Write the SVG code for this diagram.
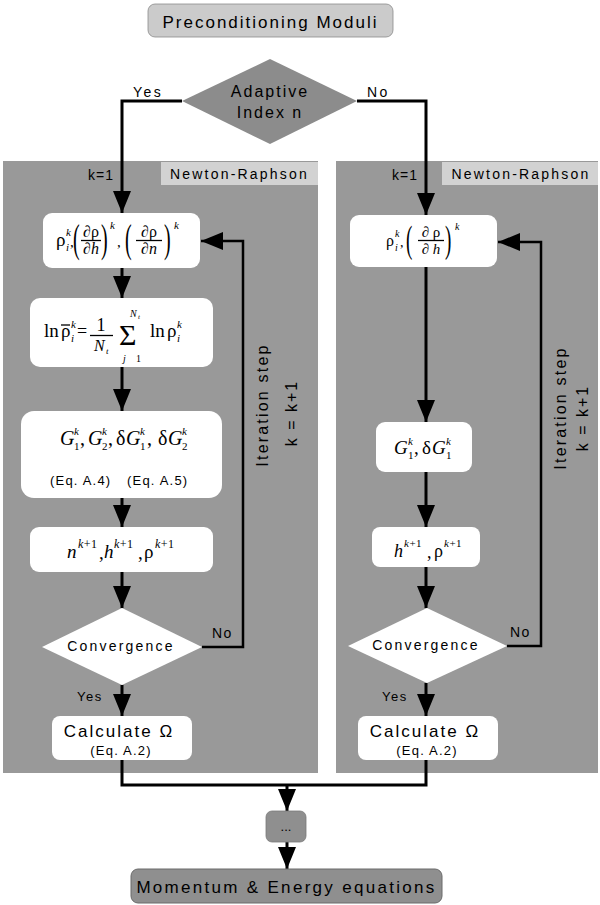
<svg xmlns="http://www.w3.org/2000/svg" width="600" height="905" viewBox="0 0 600 905">
<style>
.s{font-family:"Liberation Sans",Arial,sans-serif;fill:#000}
.m{font-family:"Liberation Serif","DejaVu Serif",serif;fill:#000}
.i{font-style:italic}
.ln{fill:none;stroke:#000;stroke-width:3}
.lp{fill:none;stroke:#000;stroke-width:2.5}
.wb{fill:#fff}
.bar{stroke:#000;stroke-width:1.3}
</style>
<defs>
<marker id="ah" markerUnits="userSpaceOnUse" markerWidth="22" markerHeight="18" refX="22" refY="9" orient="auto">
<path d="M0,0 L22,9 L0,18 z" fill="#000"/>
</marker>
</defs>
<rect width="600" height="905" fill="#fff"/>
<g id="panel-left">
<rect x="3" y="161" width="315" height="612" fill="#999"/>
<rect x="161" y="162" width="157" height="23" fill="#d2d2d2"/>
<text class="s" x="239.5" y="179" font-size="14" letter-spacing="2.2" text-anchor="middle">Newton-Raphson</text>
</g>
<g id="panel-right">
<rect x="336" y="161" width="262" height="612" fill="#999"/>
<rect x="442" y="162" width="156" height="23" fill="#d2d2d2"/>
<text class="s" x="521" y="179" font-size="14" letter-spacing="2.2" text-anchor="middle">Newton-Raphson</text>
</g>

<g id="connectors">
<path class="ln" d="M182,101 H122 V213" marker-end="url(#ah)"/>
<path class="ln" d="M357,101 H426 V215" marker-end="url(#ah)"/>
<path class="ln" d="M122,268 V298" marker-end="url(#ah)"/>
<path class="ln" d="M122,367 V411" marker-end="url(#ah)"/>
<path class="ln" d="M122,498 V527" marker-end="url(#ah)"/>
<path class="ln" d="M122,572 V608" marker-end="url(#ah)"/>
<path class="ln" d="M122,685 V716" marker-end="url(#ah)"/>
<path class="lp" d="M202,647 H243 V241 H201" marker-end="url(#ah)"/>
<path class="ln" d="M426,267 V422" marker-end="url(#ah)"/>
<path class="ln" d="M426,472 V527" marker-end="url(#ah)"/>
<path class="ln" d="M426,567 V608" marker-end="url(#ah)"/>
<path class="ln" d="M426,683 V716" marker-end="url(#ah)"/>
<path class="lp" d="M507,646 H541 V242 H498" marker-end="url(#ah)"/>
<path class="ln" d="M122,760 V785 H426 V760"/>
<path class="ln" d="M287,785 V811" marker-end="url(#ah)"/>
<path class="ln" d="M287,842 V869" marker-end="url(#ah)"/>
</g>

<g id="title">
<rect x="148" y="4" width="245" height="33" rx="7" fill="#cbcbcb" stroke="#8a8a8a" stroke-width="0.8"/>
<text class="s" x="270.5" y="28" font-size="17" letter-spacing="2" text-anchor="middle">Preconditioning Moduli</text>
</g>

<g id="adaptive">
<polygon points="270,59 357,101 270,144 182,101" fill="#8c8c8c"/>
<text class="s" x="270" y="97" font-size="16" letter-spacing="2" text-anchor="middle">Adaptive</text>
<text class="s" x="270" y="118" font-size="16" letter-spacing="2" text-anchor="middle">Index n</text>
<text class="s" x="133" y="97" font-size="14" letter-spacing="2.5">Yes</text>
<text class="s" x="367" y="97" font-size="14" letter-spacing="2.5">No</text>
</g>

<g id="labels-k">
<text class="s" x="88" y="180" font-size="14" letter-spacing="1">k=1</text>
<text class="s" x="392" y="180" font-size="14" letter-spacing="1">k=1</text>
<text class="s" font-size="16" letter-spacing="2.2" text-anchor="middle" transform="translate(268,405) rotate(-90)">Iteration step</text>
<text class="s" font-size="16" letter-spacing="2" text-anchor="middle" transform="translate(297,413) rotate(-90)">k = k+1</text>
<text class="s" font-size="16" letter-spacing="2.2" text-anchor="middle" transform="translate(566,408) rotate(-90)">Iteration step</text>
<text class="s" font-size="16" letter-spacing="2" text-anchor="middle" transform="translate(588,418) rotate(-90)">k = k+1</text>
</g>

<g id="L-box1">
<rect class="wb" x="43" y="213" width="157" height="55" rx="9"/>
<text class="m" x="56" y="246" font-size="19">ρ</text>
<text class="m i" x="66" y="236" font-size="11">k</text>
<text class="m i" x="66" y="251" font-size="11">i</text>
<text class="m" x="70" y="247" font-size="15">,</text>
<text class="m" font-size="40" transform="translate(73,252) scale(0.5,1)">(</text>
<text class="m" x="91" y="237" font-size="16" text-anchor="middle">∂ρ</text>
<line class="bar" x1="81" y1="240.5" x2="101" y2="240.5"/>
<text class="m" x="91" y="254" font-size="16" text-anchor="middle">∂<tspan class="i">h</tspan></text>
<text class="m" font-size="40" transform="translate(101,252) scale(0.5,1)">)</text>
<text class="m i" x="110" y="229" font-size="11">k</text>
<text class="m" x="117" y="247" font-size="15">,</text>
<text class="m" font-size="40" transform="translate(125,252) scale(0.5,1)">(</text>
<text class="m" x="149" y="237" font-size="16" text-anchor="middle">∂ρ</text>
<line class="bar" x1="136" y1="240.5" x2="162" y2="240.5"/>
<text class="m" x="149" y="254" font-size="16" text-anchor="middle">∂<tspan class="i">n</tspan></text>
<text class="m" font-size="40" transform="translate(164,252) scale(0.5,1)">)</text>
<text class="m i" x="174" y="229" font-size="11">k</text>
</g>

<g id="L-box2">
<rect class="wb" x="30" y="298" width="183" height="69" rx="10"/>
<text class="m" x="44" y="337" font-size="19">ln</text>
<text class="m" x="61" y="337" font-size="19">ρ</text>
<line class="bar" x1="61" y1="325" x2="70" y2="325"/>
<text class="m i" x="71" y="328" font-size="11">k</text>
<text class="m i" x="71" y="342" font-size="11">i</text>
<text class="m" x="77" y="337" font-size="18">=</text>
<text class="m" x="101" y="331" font-size="18" text-anchor="middle">1</text>
<line class="bar" x1="90" y1="335.5" x2="113" y2="335.5"/>
<text class="m i" x="94" y="351" font-size="16">N</text>
<text class="m i" x="106" y="354" font-size="9">t</text>
<text class="m" x="119" y="345" font-size="30">Σ</text>
<text class="m i" x="130" y="317" font-size="10">N</text>
<text class="m i" x="138" y="319" font-size="7">t</text>
<text class="m i" x="123" y="362" font-size="10">j</text>
<text class="m" x="136" y="362" font-size="10">1</text>
<text class="m" x="150" y="337" font-size="19">ln</text>
<text class="m" x="167" y="337" font-size="19">ρ</text>
<text class="m i" x="177" y="328" font-size="11">k</text>
<text class="m i" x="177" y="342" font-size="11">i</text>
</g>

<g id="L-box3">
<rect class="wb" x="21" y="411" width="201" height="87" rx="13"/>
<g class="m" font-size="20">
<text class="i" x="60" y="445">G</text>
<text class="i" x="74" y="435" font-size="11">k</text>
<text x="74" y="450" font-size="11">1</text>
<text x="80" y="445">,</text>
<text class="i" x="88" y="445">G</text>
<text class="i" x="102" y="435" font-size="11">k</text>
<text x="102" y="450" font-size="11">2</text>
<text x="108" y="445">,</text>
<text x="116" y="445">δ</text>
<text class="i" x="126" y="445">G</text>
<text class="i" x="140" y="435" font-size="11">k</text>
<text x="140" y="450" font-size="11">1</text>
<text x="147" y="445">,</text>
<text x="158" y="445">δ</text>
<text class="i" x="168" y="445">G</text>
<text class="i" x="182" y="435" font-size="11">k</text>
<text x="182" y="450" font-size="11">2</text>
</g>
<text class="s" x="50" y="485" font-size="13" letter-spacing="1.2">(Eq. A.4)</text>
<text class="s" x="127" y="485" font-size="13" letter-spacing="1.2">(Eq. A.5)</text>
</g>

<g id="L-box4">
<rect class="wb" x="30" y="527" width="183" height="45" rx="9"/>
<g class="m" font-size="19">
<text class="i" x="67" y="558">n</text>
<text x="78" y="548" font-size="12" letter-spacing="0.5"><tspan class="i">k</tspan>+1</text>
<text x="99" y="559">,</text>
<text class="i" x="104" y="558">h</text>
<text x="114" y="548" font-size="12" letter-spacing="0.5"><tspan class="i">k</tspan>+1</text>
<text x="138" y="559">,</text>
<text x="144" y="558">ρ</text>
<text x="155" y="548" font-size="12" letter-spacing="0.5"><tspan class="i">k</tspan>+1</text>
</g>
</g>

<g id="L-conv">
<polygon points="122,608 202,647 122,685 42,647" fill="#fff"/>
<text class="s" x="121" y="651" font-size="14" letter-spacing="2.2" text-anchor="middle">Convergence</text>
<text class="s" x="212" y="638" font-size="14" letter-spacing="1.5">No</text>
<text class="s" x="77" y="701" font-size="13" letter-spacing="1.5">Yes</text>
</g>

<g id="L-calc">
<rect class="wb" x="52" y="716" width="140" height="44" rx="8"/>
<text class="s" x="119" y="737" font-size="17" letter-spacing="2" text-anchor="middle">Calculate Ω</text>
<text class="s" x="121" y="755" font-size="13" letter-spacing="1.2" text-anchor="middle">(Eq. A.2)</text>
</g>

<g id="R-box1">
<rect class="wb" x="350" y="215" width="147" height="52" rx="9"/>
<text class="m" x="386" y="246" font-size="16">ρ</text>
<text class="m i" x="395" y="237" font-size="10">k</text>
<text class="m i" x="395" y="251" font-size="10">i</text>
<text class="m" x="400" y="247" font-size="14">,</text>
<text class="m" font-size="38" transform="translate(406,252) scale(0.5,1)">(</text>
<text class="m" x="431" y="237" font-size="15" text-anchor="middle">∂ ρ</text>
<line class="bar" x1="418" y1="240.5" x2="444" y2="240.5"/>
<text class="m" x="431" y="254" font-size="15" text-anchor="middle">∂ <tspan class="i">h</tspan></text>
<text class="m" font-size="38" transform="translate(445,252) scale(0.5,1)">)</text>
<text class="m i" x="455" y="230" font-size="10">k</text>
</g>

<g id="R-box2">
<rect class="wb" x="376" y="422" width="96" height="50" rx="9"/>
<g class="m" font-size="19">
<text class="i" x="394" y="454">G</text>
<text class="i" x="408" y="445" font-size="11">k</text>
<text x="408" y="459" font-size="11">1</text>
<text x="414" y="454">,</text>
<text x="422" y="454">δ</text>
<text class="i" x="432" y="454">G</text>
<text class="i" x="446" y="445" font-size="11">k</text>
<text x="446" y="459" font-size="11">1</text>
</g>
</g>

<g id="R-box3">
<rect class="wb" x="372" y="527" width="108" height="40" rx="8"/>
<g class="m" font-size="18">
<text class="i" x="394" y="557">h</text>
<text x="404" y="547" font-size="11" letter-spacing="0.5"><tspan class="i">k</tspan>+1</text>
<text x="427" y="558">,</text>
<text x="434" y="557">ρ</text>
<text x="444" y="547" font-size="11" letter-spacing="0.5"><tspan class="i">k</tspan>+1</text>
</g>
</g>

<g id="R-conv">
<polygon points="427,608 507,646 427,683 348,646" fill="#fff"/>
<text class="s" x="426" y="650" font-size="14" letter-spacing="2.2" text-anchor="middle">Convergence</text>
<text class="s" x="510" y="637" font-size="14" letter-spacing="1.5">No</text>
<text class="s" x="382" y="701" font-size="13" letter-spacing="1.5">Yes</text>
</g>

<g id="R-calc">
<rect class="wb" x="358" y="716" width="140" height="44" rx="8"/>
<text class="s" x="425" y="737" font-size="17" letter-spacing="2" text-anchor="middle">Calculate Ω</text>
<text class="s" x="427" y="755" font-size="13" letter-spacing="1.2" text-anchor="middle">(Eq. A.2)</text>
</g>

<g id="dots">
<rect x="266" y="811" width="40" height="31" rx="6" fill="#8f8f8f" stroke="#7a7a7a" stroke-width="0.8"/>
<text class="s" x="286" y="831" font-size="13" text-anchor="middle" fill="#222">...</text>
</g>

<g id="momentum">
<rect x="131" y="869" width="311" height="34" rx="7" fill="#8f8f8f" stroke="#6a6a6a" stroke-width="1"/>
<text class="s" x="286.5" y="893" font-size="17" letter-spacing="2.3" text-anchor="middle">Momentum &amp; Energy equations</text>
</g>
</svg>
